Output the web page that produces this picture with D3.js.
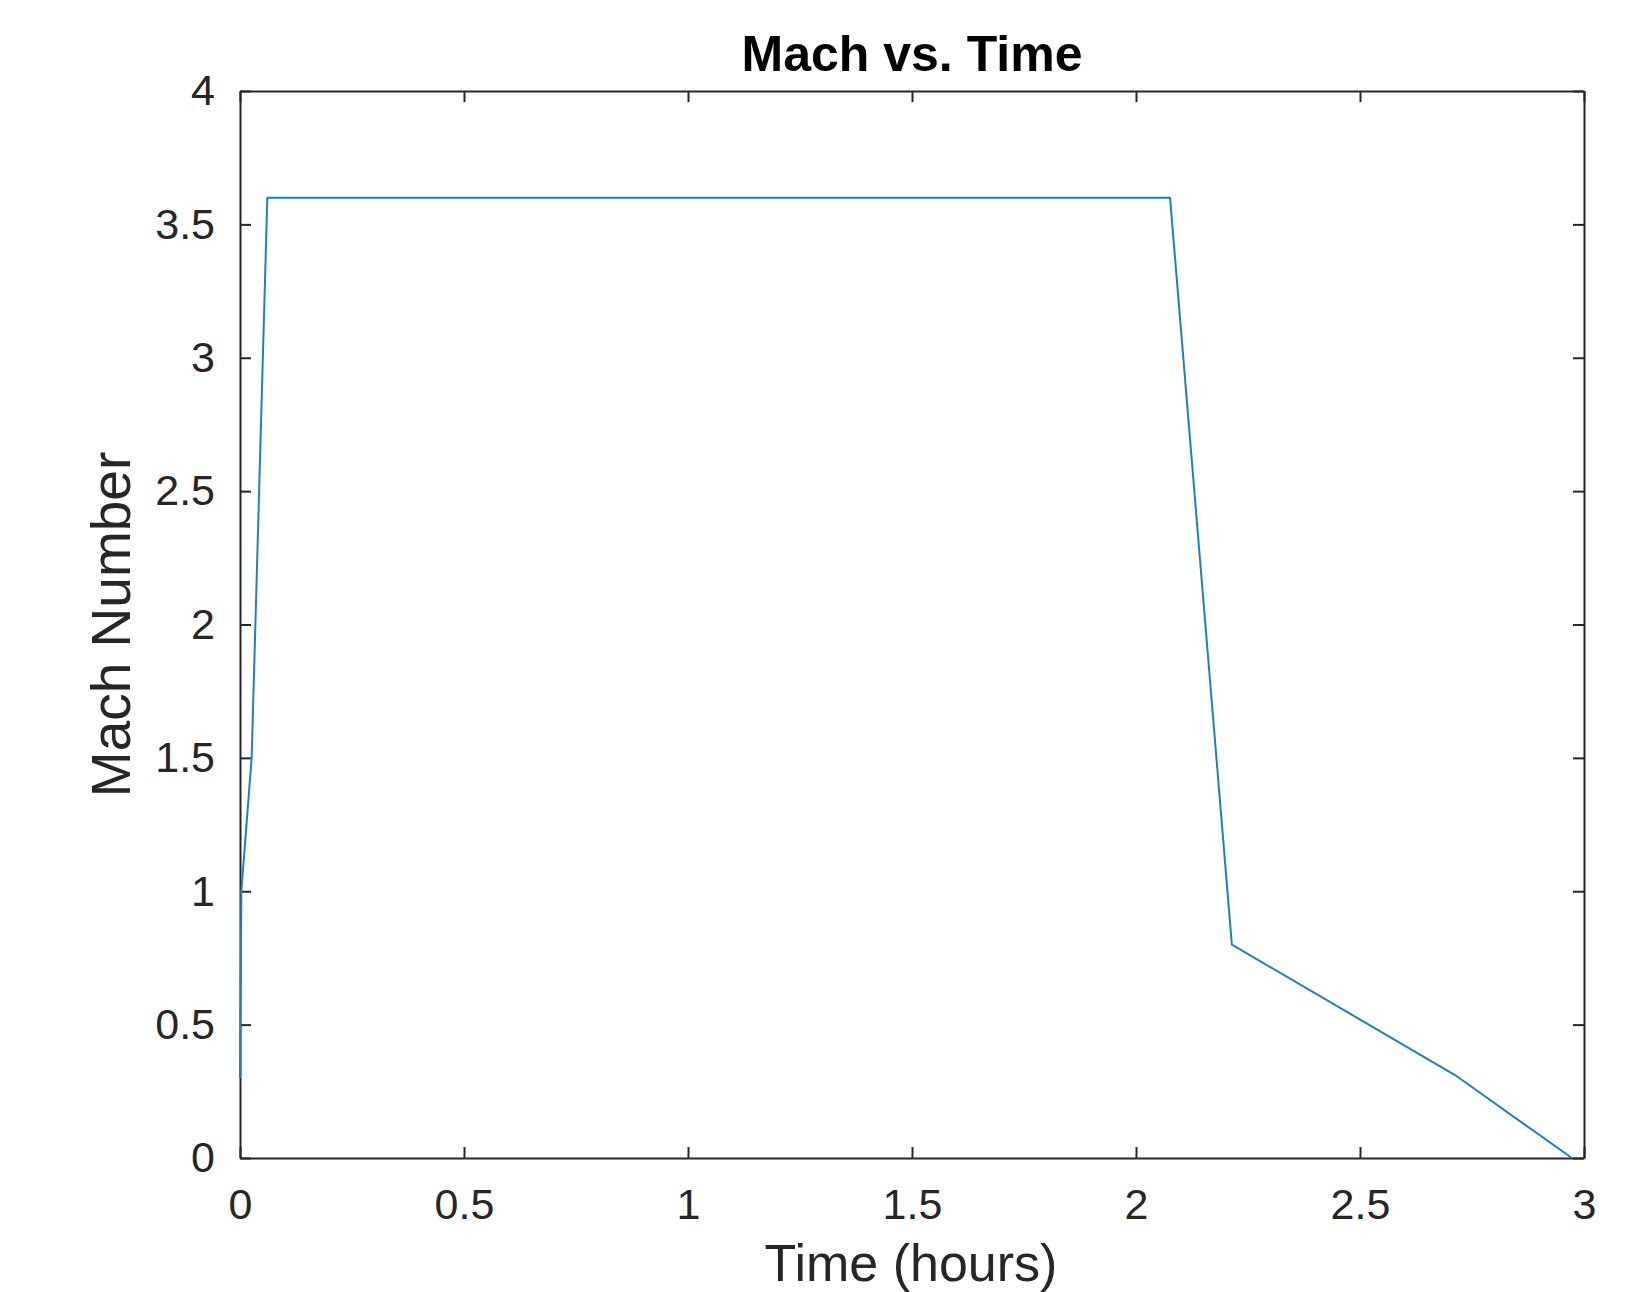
<!DOCTYPE html>
<html>
<head>
<meta charset="utf-8">
<script src="https://cdn.jsdelivr.net/npm/d3@7"></script>
<style>
  body { margin: 0; background: #fff; }
  svg { display: block; font-family: "Liberation Sans", Arial, Helvetica, sans-serif; }
  .axis path, .axis line { stroke: #262626; stroke-width: 2; }
  .axis text { fill: #262626; font-size: 43px; }
</style>
</head>
<body>
<svg id="chart" width="1636" height="1292"></svg>
<script>
'use strict';
// time (hours) vs. Mach number
let timeHours = [0, 0.003, 0.026, 0.061, 2.076, 2.214, 2.713, 2.973];
let machNumber = [0.3, 1.0, 1.5, 3.6, 3.6, 0.8, 0.31, 0];
let xTicks = [0, 0.5, 1, 1.5, 2, 2.5, 3];
let yTicks = [0, 0.5, 1, 1.5, 2, 2.5, 3, 3.5, 4];

let svg = d3.select("#chart"),
    margin = {top: 91, right: 52, bottom: 134, left: 240},
    width = +svg.attr("width"),
    height = +svg.attr("height");

let x = d3.scaleLinear()
    .domain([0, 3])
    .range([margin.left, width - margin.right]);

let y = d3.scaleLinear()
    .domain([0, 4])
    .range([height - margin.bottom, margin.top]);

let fmt = d => String(d);
let tick = 11;

// box with inward ticks on all four sides
svg.append("g")
    .attr("class", "axis")
    .attr("transform", "translate(0," + y(0) + ")")
    .call(d3.axisBottom(x).tickValues(xTicks).tickFormat(fmt).tickSizeInner(-tick).tickSizeOuter(0).tickPadding(30));

svg.append("g")
    .attr("class", "axis")
    .attr("transform", "translate(0," + y(4) + ")")
    .call(d3.axisTop(x).tickValues(xTicks).tickFormat("").tickSizeInner(-tick).tickSizeOuter(0));

svg.append("g")
    .attr("class", "axis")
    .attr("transform", "translate(" + x(0) + ",0)")
    .call(d3.axisLeft(y).tickValues(yTicks).tickFormat(fmt).tickSizeInner(-tick).tickSizeOuter(0).tickPadding(25));

svg.append("g")
    .attr("class", "axis")
    .attr("transform", "translate(" + x(3) + ",0)")
    .call(d3.axisRight(y).tickValues(yTicks).tickFormat("").tickSizeInner(-tick).tickSizeOuter(0));

let points = timeHours.map((t, i) => ({t: t, m: machNumber[i]}));

let line = d3.line()
    .x(d => x(d.t))
    .y(d => y(d.m));

svg.append("path")
    .datum(points)
    .attr("fill", "none")
    .attr("stroke", "#1f7fc4")
    .attr("stroke-width", 2)
    .attr("stroke-linejoin", "round")
    .attr("d", line);

svg.append("text")
    .attr("x", (x(0) + x(3)) / 2)
    .attr("y", 71)
    .attr("text-anchor", "middle")
    .attr("font-size", 50)
    .attr("font-weight", "bold")
    .attr("fill", "#000")
    .text("Mach vs. Time");

svg.append("text")
    .attr("x", (x(0) + x(3)) / 2 - 1)
    .attr("y", 1281)
    .attr("text-anchor", "middle")
    .attr("font-size", 52)
    .attr("fill", "#262626")
    .text("Time (hours)");

svg.append("text")
    .attr("transform", "translate(130," + ((y(0) + y(4)) / 2) + ") rotate(-90)")
    .attr("text-anchor", "middle")
    .attr("font-size", 55)
    .attr("fill", "#262626")
    .text("Mach Number");
</script>
</body>
</html>
